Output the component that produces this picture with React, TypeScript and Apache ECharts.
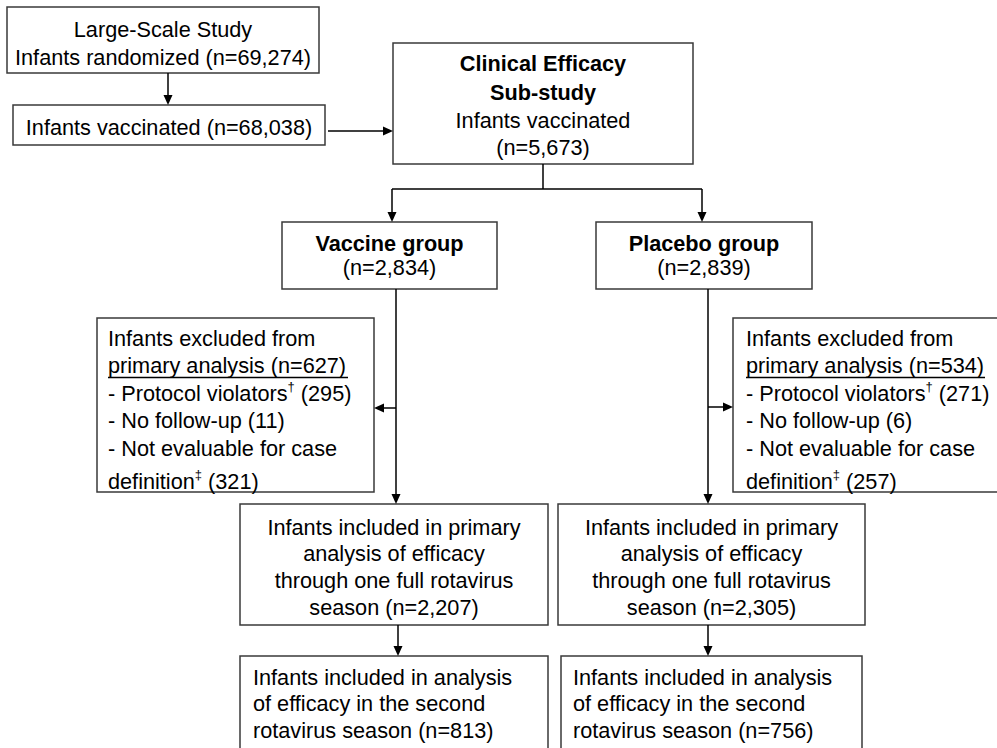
import React, { useEffect, useRef } from "react";
import * as echarts from "echarts";

// ---- Data (counts shown in the flow diagram) ----
const randomizedN = 69274;
const vaccinatedLargeN = 68038;
const subStudyN = 5673;
const groupNames = ["Vaccine group", "Placebo group"];
const groupN = [2834, 2839];
const excludedN = [627, 534];
const protocolViolatorsN = [295, 271];
const noFollowUpN = [11, 6];
const notEvaluableN = [321, 257];
const primaryN = [2207, 2305];
const secondSeasonN = [813, 756];

const fmt = (n: number) => n.toLocaleString("en-US");

const FONT = '"Liberation Sans", Arial, Helvetica, sans-serif';
const FS = 21.7;
const BORDER = "#3a3a3a";

function box(x: number, y: number, w: number, h: number) {
  return {
    type: "rect",
    shape: { x, y, width: w, height: h },
    style: { fill: "#fff", stroke: BORDER, lineWidth: 1.5 },
    z: 1,
  };
}

function txt(x: number, y: number, s: string, align = "center", bold = false) {
  return {
    type: "text",
    x,
    y,
    z: 5,
    style: {
      text: s,
      fontSize: FS,
      fontFamily: FONT,
      fontWeight: bold ? "bold" : "normal",
      fill: "#000",
      align,
      textAlign: align,
      verticalAlign: "middle",
      textVerticalAlign: "middle",
    },
  };
}

function richTxt(x: number, y: number, s: string) {
  return {
    type: "text",
    x,
    y,
    z: 5,
    style: {
      text: s,
      fill: "#000",
      align: "left",
      textAlign: "left",
      verticalAlign: "middle",
      textVerticalAlign: "middle",
      rich: {
        n: { fontSize: FS, fontFamily: FONT, lineHeight: 27, fill: "#000" },
        s: { fontSize: 13, fontFamily: FONT, lineHeight: 15, verticalAlign: "top", fill: "#000" },
      },
    },
  };
}

function line(x1: number, y1: number, x2: number, y2: number) {
  return {
    type: "line",
    shape: { x1, y1, x2, y2 },
    style: { stroke: "#000", lineWidth: 1.5 },
    z: 2,
  };
}

function arrow(x1: number, y1: number, x2: number, y2: number) {
  const ang = Math.atan2(y2 - y1, x2 - x1);
  const L = 10;
  const W = 4.5;
  const bx = x2 - L * Math.cos(ang);
  const by = y2 - L * Math.sin(ang);
  const px = -Math.sin(ang) * W;
  const py = Math.cos(ang) * W;
  return [
    line(x1, y1, bx, by),
    {
      type: "polygon",
      shape: { points: [[x2, y2], [bx + px, by + py], [bx - px, by - py]] },
      style: { fill: "#000" },
      z: 3,
    },
  ];
}

function buildGraphics() {
  const els: any[] = [];
  // Large-scale study
  els.push(box(7, 7, 312, 66));
  els.push(txt(163, 29, "Large-Scale Study"));
  els.push(txt(163, 57, `Infants randomized (n=${fmt(randomizedN)})`));
  els.push(...arrow(168, 73, 168, 105));
  els.push(box(13, 105, 312, 40));
  els.push(txt(169, 127, `Infants vaccinated (n=${fmt(vaccinatedLargeN)})`));
  els.push(...arrow(328, 131, 393, 131));

  // Clinical efficacy sub-study
  els.push(box(393, 43, 300, 121));
  els.push(txt(543, 63, "Clinical Efficacy", "center", true));
  els.push(txt(543, 92, "Sub-study", "center", true));
  els.push(txt(543, 120, "Infants vaccinated"));
  els.push(txt(543, 147, `(n=${fmt(subStudyN)})`));
  els.push(line(543, 164, 543, 189));
  els.push(line(392, 189, 702, 189));
  els.push(...arrow(392, 189, 392, 222));
  els.push(...arrow(702, 189, 702, 222));

  // Groups
  const gBox = [
    { x: 282, w: 215 },
    { x: 596, w: 216 },
  ];
  gBox.forEach((g, i) => {
    els.push(box(g.x, 222, g.w, 67));
    const cx = g.x + g.w / 2;
    els.push(txt(cx, 243, groupNames[i], "center", true));
    els.push(txt(cx, 267, `(n=${fmt(groupN[i])})`));
  });

  // Vertical trunks
  const trunkX = [396, 708];
  els.push(...arrow(trunkX[0], 289, trunkX[0], 504));
  els.push(...arrow(trunkX[1], 289, trunkX[1], 504));
  els.push(...arrow(trunkX[0], 408, 374, 408));
  els.push(...arrow(trunkX[1], 407, 733, 407));

  // Exclusion boxes
  const exBox = [
    { x: 97, w: 277, tx: 108, ul: 240 },
    { x: 733, w: 290, tx: 746, ul: 239 },
  ];
  exBox.forEach((b, i) => {
    els.push(box(b.x, 318, b.w, 174));
    els.push(txt(b.tx, 338, "Infants excluded from", "left"));
    els.push(txt(b.tx, 365, `primary analysis (n=${fmt(excludedN[i])})`, "left"));
    els.push({
      type: "line",
      shape: { x1: b.tx, y1: 377.5, x2: b.tx + b.ul, y2: 377.5 },
      style: { stroke: "#000", lineWidth: 1.5 },
      z: 5,
    });
    els.push(richTxt(b.tx, 393, `{n|- Protocol violators}{s|†}{n| (${fmt(protocolViolatorsN[i])})}`));
    els.push(txt(b.tx, 420, `- No follow-up (${fmt(noFollowUpN[i])})`, "left"));
    els.push(txt(b.tx, 448, "- Not evaluable for case", "left"));
    els.push(richTxt(b.tx, 481, `{n|definition}{s|‡}{n| (${fmt(notEvaluableN[i])})}`));
  });

  // Primary analysis boxes
  const pBox = [
    { x: 240, w: 308 },
    { x: 558, w: 307 },
  ];
  pBox.forEach((b, i) => {
    els.push(box(b.x, 504, b.w, 121));
    const cx = b.x + b.w / 2;
    els.push(txt(cx, 527, "Infants included in primary"));
    els.push(txt(cx, 553, "analysis of efficacy"));
    els.push(txt(cx, 580, "through one full rotavirus"));
    els.push(txt(cx, 607, `season (n=${fmt(primaryN[i])})`));
  });
  els.push(...arrow(398, 625, 398, 656));
  els.push(...arrow(708, 625, 708, 656));

  // Second season boxes
  const sBox = [
    { x: 240, w: 308, tx: 253 },
    { x: 561, w: 301, tx: 573 },
  ];
  sBox.forEach((b, i) => {
    els.push(box(b.x, 656, b.w, 130));
    els.push(txt(b.tx, 677, "Infants included in analysis", "left"));
    els.push(txt(b.tx, 703, "of efficacy in the second", "left"));
    els.push(txt(b.tx, 730, `rotavirus season (n=${fmt(secondSeasonN[i])})`, "left"));
  });

  return els;
}

export default function App() {
  const ref = useRef<HTMLDivElement>(null);
  useEffect(() => {
    if (!ref.current) return;
    const chart = echarts.init(ref.current, undefined, { renderer: "svg" });
    chart.setOption({
      animation: false,
      backgroundColor: "#fff",
      graphic: { elements: buildGraphics() },
    });
    return () => chart.dispose();
  }, []);
  return (
    <div
      ref={ref}
      style={{ position: "fixed", left: 0, top: 0, width: 997, height: 748, background: "#fff" }}
    />
  );
}
